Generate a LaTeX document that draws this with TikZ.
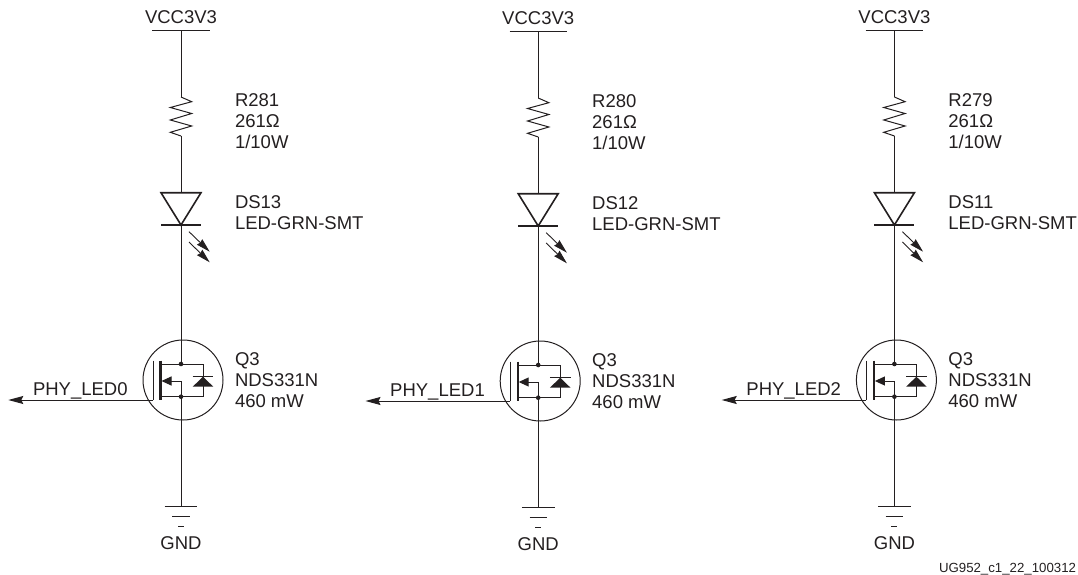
\documentclass[tikz,border=0pt]{standalone}
\usepackage{fontspec}
\setmainfont{Liberation Sans}
\usetikzlibrary{arrows.meta}
\definecolor{ink}{HTML}{231F20}
\tikzset{
  wire/.style={draw=ink,line width=1pt,line cap=butt},
  thickwire/.style={draw=ink,line width=1.6pt},
  channel/.style={draw=ink,line width=2.3pt},
  gatewire/.style={wire,-{Stealth[length=15pt,width=8pt,inset=2pt]}},
  ledray/.style={draw=ink,line width=0.9pt,-{Stealth[length=14pt,width=7.5pt,inset=1pt]}},
  bodyarrow/.style={wire,-{Stealth[length=10pt,width=9pt,inset=0pt]}},
  junction/.style={circle,fill=ink,inner sep=0pt,minimum size=4.6pt},
  lbl/.style={inner sep=0pt,outer sep=0pt,text=ink,font=\fontsize{18.5}{20.8}\selectfont},
  block/.style={lbl,align=left,anchor=base west},
  small/.style={inner sep=0pt,outer sep=0pt,text=ink,font=\fontsize{13.25}{15}\selectfont}
}
\begin{document}
\begin{tikzpicture}[x=1pt,y=-1pt]
\useasboundingbox (0,0) rectangle (1078,575);
\foreach \c/\cx/\dy/\rn/\dsn/\ln in {a/181/0/R281/DS13/PHY\_LED0,b/538.2/1/R280/DS12/PHY\_LED1,c/894.4/0/R279/DS11/PHY\_LED2}{
\begin{scope}[shift={(\cx,\dy)}]
  % supply
  \node[lbl,anchor=base] (vcc\c) at (0,23.3) {VCC3V3};
  \coordinate (barL\c) at (-28.7,31);
  \coordinate (barR\c) at (28.7,31);
  \coordinate (bar\c) at (0,31);
  \draw[wire] (barL\c) -- (barR\c);
  % resistor
  \coordinate (resT\c) at (0,97);
  \coordinate (resB\c) at (0,136);
  \draw[wire] (bar\c) -- (resT\c);
  \draw[wire,line join=miter] (resT\c) -- (10.7,101.7) -- (-10.7,107.5) -- (10.7,113.5) -- (-10.7,120) -- (10.7,126) -- (-10.7,132.3) -- (resB\c);
  \node[block] (res\c) at (54,148) {\rn\\261Ω\\1/10W};
  % LED
  \coordinate (ledT\c) at (0,192.7);
  \coordinate (ledB\c) at (0,225);
  \draw[wire] (resB\c) -- (ledT\c);
  \draw[thickwire,line join=miter] (-20,192.7) -- (20,192.7) -- (ledB\c) -- cycle;
  \draw[thickwire] (-20,225) -- (20,225);
  \coordinate (ray1s\c) at (8,231.7);
  \coordinate (ray1e\c) at (28.7,251.7);
  \coordinate (ray2s\c) at (8,242);
  \coordinate (ray2e\c) at (28.7,262.3);
  \draw[ledray] (ray1s\c) -- (ray1e\c);
  \draw[ledray] (ray2s\c) -- (ray2e\c);
  \node[block] (led\c) at (54,229) {\dsn\\LED-GRN-SMT};
  % MOSFET
  \node[circle,draw=ink,line width=1pt,minimum size=80pt,inner sep=0pt] (q\c) at (2,380) {};
  \coordinate (drainT\c) at (0,364);
  \coordinate (srcB\c) at (0,396.7);
  \coordinate (gnd\c) at (0,506.7);
  \draw[wire] (ledB\c) -- (drainT\c);
  \draw[wire] (srcB\c) -- (gnd\c);
  \draw[channel] (-20.5,360.7) -- (-20.5,400);
  \draw[wire] (-28,360.7) -- (-28,400);
  \draw[wire] (-20.5,364) -- (22,364) -- (22,396.7) -- (-20.5,396.7);
  \draw[wire] (srcB\c) -- (0,381);
  \draw[bodyarrow] (0,381) -- (-19.5,381);
  \node[junction] (jd\c) at (drainT\c) {};
  \node[junction] (js\c) at (srcB\c) {};
  \fill[ink] (22,376.7) -- (32.3,386.7) -- (11.7,386.7) -- cycle;
  \draw[wire] (11.7,376.7) -- (32.3,376.7);
  \node[block] (qlab\c) at (54,407) {Q3\\NDS331N\\460 mW};
  % gate
  \coordinate (gateE\c) at (-28,400);
  \coordinate (gateT\c) at (-172.7,400);
  \draw[gatewire] (gateE\c) -- (gateT\c);
  \node[lbl,anchor=base west] (sig\c) at (-148,395) {\ln};
  % ground
  \draw[wire] (-16.3,506.7) -- (16.3,506.7);
  \draw[wire] (-8.7,516) -- (8.7,516);
  \draw[wire] (-3,526) -- (3,526);
  \node[lbl,anchor=base] (gl\c) at (0,549.3) {GND};
\end{scope}
}
\node[small,anchor=base west] (cap) at (939,572.7) {UG952\_c1\_22\_100312};
\end{tikzpicture}
\end{document}
